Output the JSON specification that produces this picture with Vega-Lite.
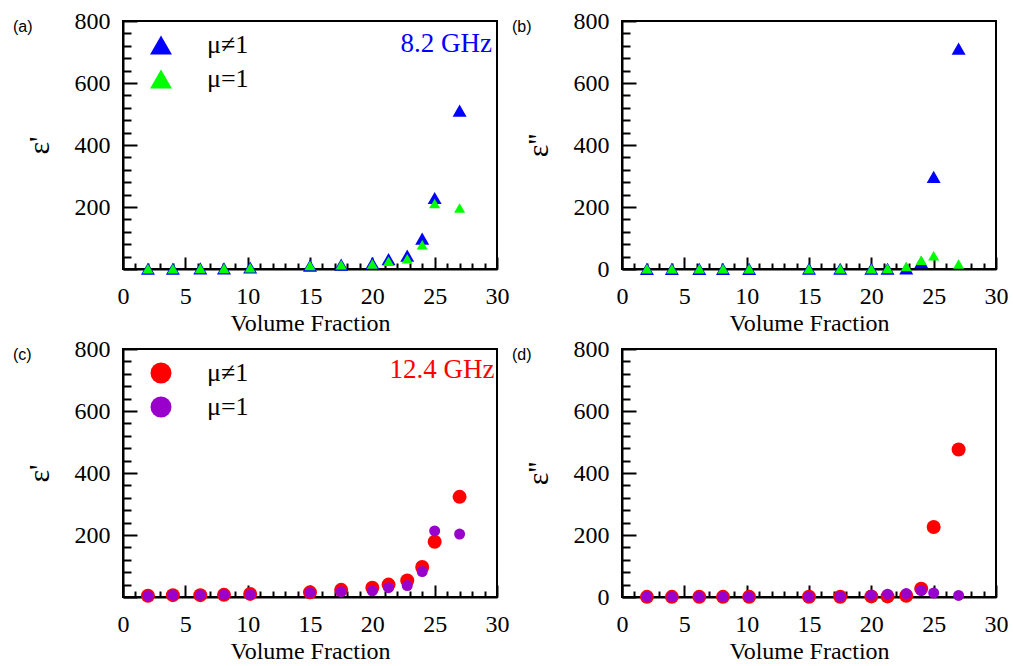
{
  "$schema": "https://vega.github.io/schema/vega-lite/v6.json",
  "background": "white",
  "padding": {"left": 12, "top": 8, "right": 5, "bottom": 5},
  "columns": 2,
  "spacing": {"row": 0, "column": 1},
  "config": {
    "font": "Liberation Serif",
    "view": {"stroke": "black", "strokeWidth": 2},
    "axis": {"domainColor": "black", "domainWidth": 2, "tickColor": "black", "tickWidth": 2, "grid": false},
    "legend": {"orient": "none", "legendX": 25, "legendY": 11, "labelOffset": 33, "rowPadding": 8, "symbolSize": 480, "symbolStrokeWidth": 0, "title": null},
    "title": {"anchor": "start", "frame": "group", "font": "Liberation Sans", "fontSize": 16, "fontWeight": "normal", "color": "black", "offset": 0, "baseline": "middle", "dx": -110, "dy": 30}
  },
  "datasets": {
    "ghz82": [
      {"phi": 2, "mu": "μ≠1", "re": 1, "im": 0.5},
      {"phi": 4, "mu": "μ≠1", "re": 1, "im": 0.5},
      {"phi": 6.2, "mu": "μ≠1", "re": 2, "im": 0.5},
      {"phi": 8.1, "mu": "μ≠1", "re": 2, "im": 0.5},
      {"phi": 10.2, "mu": "μ≠1", "re": 5, "im": 0.5},
      {"phi": 15, "mu": "μ≠1", "re": 11, "im": 1},
      {"phi": 17.5, "mu": "μ≠1", "re": 14, "im": 1},
      {"phi": 20, "mu": "μ≠1", "re": 19, "im": 1},
      {"phi": 21.3, "mu": "μ≠1", "re": 32, "im": 1},
      {"phi": 22.8, "mu": "μ≠1", "re": 43, "im": 2},
      {"phi": 24, "mu": "μ≠1", "re": 98, "im": 22},
      {"phi": 25, "mu": "μ≠1", "re": 229, "im": 297},
      {"phi": 27, "mu": "μ≠1", "re": 511, "im": 711},
      {"phi": 2, "mu": "μ=1", "re": 1, "im": 0.5},
      {"phi": 4, "mu": "μ=1", "re": 1, "im": 0.5},
      {"phi": 6.2, "mu": "μ=1", "re": 2, "im": 0.5},
      {"phi": 8.1, "mu": "μ=1", "re": 2, "im": 0.5},
      {"phi": 10.2, "mu": "μ=1", "re": 4, "im": 0.5},
      {"phi": 15, "mu": "μ=1", "re": 11, "im": 1},
      {"phi": 17.5, "mu": "μ=1", "re": 14, "im": 1},
      {"phi": 20, "mu": "μ=1", "re": 16, "im": 1},
      {"phi": 21.3, "mu": "μ=1", "re": 25, "im": 2},
      {"phi": 22.8, "mu": "μ=1", "re": 33, "im": 8},
      {"phi": 24, "mu": "μ=1", "re": 78, "im": 28},
      {"phi": 25, "mu": "μ=1", "re": 211, "im": 43},
      {"phi": 27, "mu": "μ=1", "re": 197, "im": 16}
    ],
    "ghz124": [
      {"phi": 2, "mu": "μ≠1", "re": 4, "im": 0.5},
      {"phi": 4, "mu": "μ≠1", "re": 6, "im": 0.5},
      {"phi": 6.2, "mu": "μ≠1", "re": 6, "im": 0.5},
      {"phi": 8.1, "mu": "μ≠1", "re": 7, "im": 0.5},
      {"phi": 10.2, "mu": "μ≠1", "re": 10, "im": 0.5},
      {"phi": 15, "mu": "μ≠1", "re": 15, "im": 1},
      {"phi": 17.5, "mu": "μ≠1", "re": 23, "im": 1},
      {"phi": 20, "mu": "μ≠1", "re": 30, "im": 2},
      {"phi": 21.3, "mu": "μ≠1", "re": 40, "im": 2},
      {"phi": 22.8, "mu": "μ≠1", "re": 53, "im": 4},
      {"phi": 24, "mu": "μ≠1", "re": 97, "im": 27},
      {"phi": 25, "mu": "μ≠1", "re": 178, "im": 226},
      {"phi": 27, "mu": "μ≠1", "re": 323, "im": 476},
      {"phi": 2, "mu": "μ=1", "re": 4, "im": 0.5},
      {"phi": 4, "mu": "μ=1", "re": 6, "im": 0.5},
      {"phi": 6.2, "mu": "μ=1", "re": 6, "im": 0.5},
      {"phi": 8.1, "mu": "μ=1", "re": 7, "im": 0.5},
      {"phi": 10.2, "mu": "μ=1", "re": 8, "im": 0.5},
      {"phi": 15, "mu": "μ=1", "re": 14, "im": 1},
      {"phi": 17.5, "mu": "μ=1", "re": 17, "im": 2},
      {"phi": 20, "mu": "μ=1", "re": 20, "im": 6},
      {"phi": 21.3, "mu": "μ=1", "re": 30, "im": 9},
      {"phi": 22.8, "mu": "μ=1", "re": 37, "im": 11},
      {"phi": 24, "mu": "μ=1", "re": 82, "im": 21},
      {"phi": 25, "mu": "μ=1", "re": 213, "im": 13},
      {"phi": 27, "mu": "μ=1", "re": 203, "im": 5}
    ]
  },
  "concat": [
    {
      "title": "(a)",
      "width": 374,
      "height": 248,
      "data": {"name": "ghz82"},
      "encoding": {
        "x": {"field": "phi", "type": "quantitative", "scale": {"domain": [0, 30], "nice": false},
          "axis": {"title": "Volume Fraction", "values": [0,1,2,3,4,5,6,7,8,9,10,11,12,13,14,15,16,17,18,19,20,21,22,23,24,25,26,27,28,29,30],
            "labelExpr": "datum.value % 5 === 0 ? datum.label : ''", "labelOverlap": false, "labelFlush": false,
            "labelFont": "Liberation Serif", "labelFontSize": 24, "labelColor": "black",
            "titleFont": "Liberation Serif", "titleFontSize": 24, "titleFontWeight": "normal", "titleColor": "black",
            "tickSize": {"condition": {"test": "datum.value % 5 === 0", "value": -12}, "value": -6},
            "labelPadding": 27, "titlePadding": -3}},
        "y": {"field": "re", "type": "quantitative", "scale": {"domain": [0, 800], "nice": false},
          "axis": {"title": "ε'", "values": [0,40,80,120,160,200,240,280,320,360,400,440,480,520,560,600,640,680,720,760,800],
            "labelExpr": "datum.value % 200 === 0 && datum.value > 0 ? datum.label : ''", "labelOverlap": false, "labelFlush": false,
            "labelFont": "Liberation Serif", "labelFontSize": 24, "labelColor": "black",
            "titleFont": "Liberation Serif", "titleFontSize": 30, "titleFontWeight": "normal", "titleColor": "black",
            "tickSize": {"condition": {"test": "datum.value % 200 === 0", "value": -14}, "value": -8},
            "labelPadding": 27, "titlePadding": 20}},
        "color": {"field": "mu", "type": "nominal",
          "scale": {"domain": ["μ≠1", "μ=1"], "range": ["#0000ff", "#00ff00"]},
          "legend": {"symbolType": "triangle-up", "labelFont": "Liberation Serif", "labelFontSize": 26,
            "encode": {"labels": {"update": {"fill": {"signal": "datum.label === 'μ≠1' ? '#0000ff' : '#00ff00'"}}}}}}
      },
      "layer": [
        {"transform": [{"filter": "datum.mu === 'μ≠1'"}],
         "mark": {"type": "point", "shape": "triangle-up", "filled": true, "opacity": 1, "strokeWidth": 0, "size": 196}},
        {"transform": [{"filter": "datum.mu === 'μ=1'"}],
         "mark": {"type": "point", "shape": "triangle-up", "filled": true, "opacity": 1, "strokeWidth": 0, "size": 121}},
        {
          "transform": [{"filter": "datum.phi === 27 && datum.mu === 'μ≠1'"}],
          "mark": {"type": "text", "align": "right", "baseline": "middle", "font": "Liberation Serif", "fontSize": 27},
          "encoding": {
            "x": {"datum": 29.6, "type": "quantitative",
              "axis": {"title": "Volume Fraction", "values": [0,1,2,3,4,5,6,7,8,9,10,11,12,13,14,15,16,17,18,19,20,21,22,23,24,25,26,27,28,29,30],
                "labelExpr": "datum.value % 5 === 0 ? datum.label : ''", "labelOverlap": false, "labelFlush": false,
                "labelFont": "Liberation Serif", "labelFontSize": 24, "labelColor": "black",
                "titleFont": "Liberation Serif", "titleFontSize": 24, "titleFontWeight": "normal", "titleColor": "black",
                "tickSize": {"condition": {"test": "datum.value % 5 === 0", "value": -12}, "value": -6},
                "labelPadding": 27, "titlePadding": -3}},
            "y": {"datum": 726, "type": "quantitative",
              "axis": {"title": "ε'", "values": [0,40,80,120,160,200,240,280,320,360,400,440,480,520,560,600,640,680,720,760,800],
                "labelExpr": "datum.value % 200 === 0 && datum.value > 0 ? datum.label : ''", "labelOverlap": false, "labelFlush": false,
                "labelFont": "Liberation Serif", "labelFontSize": 24, "labelColor": "black",
                "titleFont": "Liberation Serif", "titleFontSize": 30, "titleFontWeight": "normal", "titleColor": "black",
                "tickSize": {"condition": {"test": "datum.value % 200 === 0", "value": -14}, "value": -8},
                "labelPadding": 27, "titlePadding": 20}},
            "color": {"value": "#0000ff"},
            "text": {"value": "8.2 GHz"}
          }
        }
      ]
    },
    {
      "title": "(b)",
      "width": 374,
      "height": 248,
      "data": {"name": "ghz82"},
      "encoding": {
        "x": {"field": "phi", "type": "quantitative", "scale": {"domain": [0, 30], "nice": false},
          "axis": {"title": "Volume Fraction", "values": [0,1,2,3,4,5,6,7,8,9,10,11,12,13,14,15,16,17,18,19,20,21,22,23,24,25,26,27,28,29,30],
            "labelExpr": "datum.value % 5 === 0 ? datum.label : ''", "labelOverlap": false, "labelFlush": false,
            "labelFont": "Liberation Serif", "labelFontSize": 24, "labelColor": "black",
            "titleFont": "Liberation Serif", "titleFontSize": 24, "titleFontWeight": "normal", "titleColor": "black",
            "tickSize": {"condition": {"test": "datum.value % 5 === 0", "value": -12}, "value": -6},
            "labelPadding": 27, "titlePadding": -3}},
        "y": {"field": "im", "type": "quantitative", "scale": {"domain": [0, 800], "nice": false},
          "axis": {"title": "ε''", "values": [0,40,80,120,160,200,240,280,320,360,400,440,480,520,560,600,640,680,720,760,800],
            "labelExpr": "datum.value % 200 === 0 ? datum.label : ''", "labelOverlap": false, "labelFlush": false,
            "labelFont": "Liberation Serif", "labelFontSize": 24, "labelColor": "black",
            "titleFont": "Liberation Serif", "titleFontSize": 30, "titleFontWeight": "normal", "titleColor": "black",
            "tickSize": {"condition": {"test": "datum.value % 200 === 0", "value": -14}, "value": -8},
            "labelPadding": 27, "titlePadding": 20}},
        "color": {"field": "mu", "type": "nominal",
          "scale": {"domain": ["μ≠1", "μ=1"], "range": ["#0000ff", "#00ff00"]}, "legend": null}
      },
      "layer": [
        {"transform": [{"filter": "datum.mu === 'μ≠1'"}],
         "mark": {"type": "point", "shape": "triangle-up", "filled": true, "opacity": 1, "strokeWidth": 0, "size": 196}},
        {"transform": [{"filter": "datum.mu === 'μ=1'"}],
         "mark": {"type": "point", "shape": "triangle-up", "filled": true, "opacity": 1, "strokeWidth": 0, "size": 121}}
      ]
    },
    {
      "title": "(c)",
      "width": 374,
      "height": 248,
      "data": {"name": "ghz124"},
      "encoding": {
        "x": {"field": "phi", "type": "quantitative", "scale": {"domain": [0, 30], "nice": false},
          "axis": {"title": "Volume Fraction", "values": [0,1,2,3,4,5,6,7,8,9,10,11,12,13,14,15,16,17,18,19,20,21,22,23,24,25,26,27,28,29,30],
            "labelExpr": "datum.value % 5 === 0 ? datum.label : ''", "labelOverlap": false, "labelFlush": false,
            "labelFont": "Liberation Serif", "labelFontSize": 24, "labelColor": "black",
            "titleFont": "Liberation Serif", "titleFontSize": 24, "titleFontWeight": "normal", "titleColor": "black",
            "tickSize": {"condition": {"test": "datum.value % 5 === 0", "value": -12}, "value": -6},
            "labelPadding": 27, "titlePadding": -3}},
        "y": {"field": "re", "type": "quantitative", "scale": {"domain": [0, 800], "nice": false},
          "axis": {"title": "ε'", "values": [0,40,80,120,160,200,240,280,320,360,400,440,480,520,560,600,640,680,720,760,800],
            "labelExpr": "datum.value % 200 === 0 && datum.value > 0 ? datum.label : ''", "labelOverlap": false, "labelFlush": false,
            "labelFont": "Liberation Serif", "labelFontSize": 24, "labelColor": "black",
            "titleFont": "Liberation Serif", "titleFontSize": 30, "titleFontWeight": "normal", "titleColor": "black",
            "tickSize": {"condition": {"test": "datum.value % 200 === 0", "value": -14}, "value": -8},
            "labelPadding": 27, "titlePadding": 20}},
        "color": {"field": "mu", "type": "nominal",
          "scale": {"domain": ["μ≠1", "μ=1"], "range": ["#ff0000", "#9900cc"]},
          "legend": {"symbolType": "circle", "symbolSize": 440, "labelFont": "Liberation Serif", "labelFontSize": 26,
            "encode": {"labels": {"update": {"fill": {"signal": "datum.label === 'μ≠1' ? '#ff0000' : '#9900cc'"}}}}}}
      },
      "layer": [
        {"transform": [{"filter": "datum.mu === 'μ≠1'"}],
         "mark": {"type": "point", "shape": "circle", "filled": true, "opacity": 1, "strokeWidth": 0, "size": 196}},
        {"transform": [{"filter": "datum.mu === 'μ=1'"}],
         "mark": {"type": "point", "shape": "circle", "filled": true, "opacity": 1, "strokeWidth": 0, "size": 121}},
        {
          "transform": [{"filter": "datum.phi === 27 && datum.mu === 'μ≠1'"}],
          "mark": {"type": "text", "align": "right", "baseline": "middle", "font": "Liberation Serif", "fontSize": 27},
          "encoding": {
            "x": {"datum": 29.8, "type": "quantitative",
              "axis": {"title": "Volume Fraction", "values": [0,1,2,3,4,5,6,7,8,9,10,11,12,13,14,15,16,17,18,19,20,21,22,23,24,25,26,27,28,29,30],
                "labelExpr": "datum.value % 5 === 0 ? datum.label : ''", "labelOverlap": false, "labelFlush": false,
                "labelFont": "Liberation Serif", "labelFontSize": 24, "labelColor": "black",
                "titleFont": "Liberation Serif", "titleFontSize": 24, "titleFontWeight": "normal", "titleColor": "black",
                "tickSize": {"condition": {"test": "datum.value % 5 === 0", "value": -12}, "value": -6},
                "labelPadding": 27, "titlePadding": -3}},
            "y": {"datum": 733, "type": "quantitative",
              "axis": {"title": "ε'", "values": [0,40,80,120,160,200,240,280,320,360,400,440,480,520,560,600,640,680,720,760,800],
                "labelExpr": "datum.value % 200 === 0 && datum.value > 0 ? datum.label : ''", "labelOverlap": false, "labelFlush": false,
                "labelFont": "Liberation Serif", "labelFontSize": 24, "labelColor": "black",
                "titleFont": "Liberation Serif", "titleFontSize": 30, "titleFontWeight": "normal", "titleColor": "black",
                "tickSize": {"condition": {"test": "datum.value % 200 === 0", "value": -14}, "value": -8},
                "labelPadding": 27, "titlePadding": 20}},
            "color": {"value": "#ff0000"},
            "text": {"value": "12.4 GHz"}
          }
        }
      ]
    },
    {
      "title": "(d)",
      "width": 374,
      "height": 248,
      "data": {"name": "ghz124"},
      "encoding": {
        "x": {"field": "phi", "type": "quantitative", "scale": {"domain": [0, 30], "nice": false},
          "axis": {"title": "Volume Fraction", "values": [0,1,2,3,4,5,6,7,8,9,10,11,12,13,14,15,16,17,18,19,20,21,22,23,24,25,26,27,28,29,30],
            "labelExpr": "datum.value % 5 === 0 ? datum.label : ''", "labelOverlap": false, "labelFlush": false,
            "labelFont": "Liberation Serif", "labelFontSize": 24, "labelColor": "black",
            "titleFont": "Liberation Serif", "titleFontSize": 24, "titleFontWeight": "normal", "titleColor": "black",
            "tickSize": {"condition": {"test": "datum.value % 5 === 0", "value": -12}, "value": -6},
            "labelPadding": 27, "titlePadding": -3}},
        "y": {"field": "im", "type": "quantitative", "scale": {"domain": [0, 800], "nice": false},
          "axis": {"title": "ε''", "values": [0,40,80,120,160,200,240,280,320,360,400,440,480,520,560,600,640,680,720,760,800],
            "labelExpr": "datum.value % 200 === 0 ? datum.label : ''", "labelOverlap": false, "labelFlush": false,
            "labelFont": "Liberation Serif", "labelFontSize": 24, "labelColor": "black",
            "titleFont": "Liberation Serif", "titleFontSize": 30, "titleFontWeight": "normal", "titleColor": "black",
            "tickSize": {"condition": {"test": "datum.value % 200 === 0", "value": -14}, "value": -8},
            "labelPadding": 27, "titlePadding": 20}},
        "color": {"field": "mu", "type": "nominal",
          "scale": {"domain": ["μ≠1", "μ=1"], "range": ["#ff0000", "#9900cc"]}, "legend": null}
      },
      "layer": [
        {"transform": [{"filter": "datum.mu === 'μ≠1'"}],
         "mark": {"type": "point", "shape": "circle", "filled": true, "opacity": 1, "strokeWidth": 0, "size": 196}},
        {"transform": [{"filter": "datum.mu === 'μ=1'"}],
         "mark": {"type": "point", "shape": "circle", "filled": true, "opacity": 1, "strokeWidth": 0, "size": 121}}
      ]
    }
  ],
  "resolve": {"scale": {"color": "independent"}}
}
